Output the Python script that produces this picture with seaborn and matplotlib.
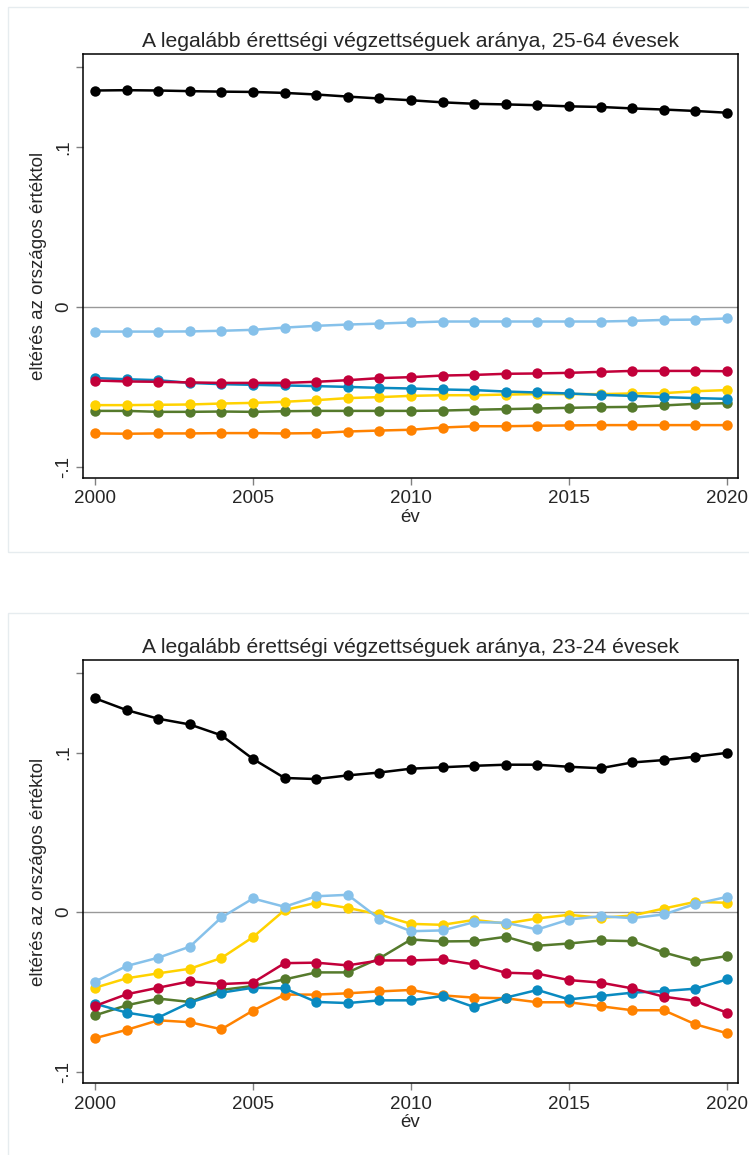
import numpy as np
import pandas as pd
import seaborn as sns
import matplotlib.pyplot as plt
from matplotlib.patches import Rectangle

years = list(range(2000, 2021))

# 25-64 year olds
top_black = [0.1352, 0.1354, 0.1352, 0.1348, 0.1345, 0.1343, 0.1337, 0.1327, 0.1314, 0.1302, 0.1291,
             0.1278, 0.1269, 0.1265, 0.1260, 0.1253, 0.1249, 0.1240, 0.1233, 0.1224, 0.1213]
top_lightblue = [-0.0156, -0.0156, -0.0156, -0.0155, -0.0151, -0.0145, -0.0131, -0.0120, -0.0112, -0.0106, -0.0099,
                 -0.0093, -0.0093, -0.0093, -0.0093, -0.0093, -0.0093, -0.0089, -0.0083, -0.0081, -0.0074]
top_blue = [-0.0447, -0.0454, -0.0460, -0.0477, -0.0485, -0.0489, -0.0493, -0.0497, -0.0502, -0.0508, -0.0512,
            -0.0518, -0.0522, -0.0531, -0.0537, -0.0543, -0.0552, -0.0558, -0.0566, -0.0572, -0.0577]
top_red = [-0.0462, -0.0468, -0.0470, -0.0474, -0.0477, -0.0477, -0.0477, -0.0470, -0.0460, -0.0447, -0.0441,
           -0.0431, -0.0427, -0.0420, -0.0418, -0.0414, -0.0408, -0.0402, -0.0402, -0.0402, -0.0404]
top_yellow = [-0.0616, -0.0616, -0.0614, -0.0612, -0.0606, -0.0602, -0.0595, -0.0585, -0.0572, -0.0566, -0.0558,
              -0.0554, -0.0554, -0.0550, -0.0547, -0.0547, -0.0547, -0.0543, -0.0541, -0.0529, -0.0522]
top_green = [-0.0652, -0.0652, -0.0658, -0.0658, -0.0656, -0.0658, -0.0654, -0.0652, -0.0652, -0.0652, -0.0652,
             -0.0650, -0.0645, -0.0641, -0.0637, -0.0633, -0.0629, -0.0627, -0.0618, -0.0608, -0.0604]
top_orange = [-0.0793, -0.0795, -0.0793, -0.0793, -0.0791, -0.0791, -0.0793, -0.0791, -0.0781, -0.0775, -0.0770,
              -0.0756, -0.0748, -0.0748, -0.0745, -0.0743, -0.0741, -0.0741, -0.0741, -0.0741, -0.0741]

# 23-24 year olds
bot_black = [0.1340, 0.1266, 0.1212, 0.1176, 0.1108, 0.0960, 0.0841, 0.0834, 0.0857, 0.0875, 0.0899,
             0.0908, 0.0917, 0.0924, 0.0924, 0.0911, 0.0902, 0.0938, 0.0953, 0.0974, 0.0998]
bot_lightblue = [-0.0435, -0.0337, -0.0285, -0.0216, -0.0033, 0.0086, 0.0034, 0.0100, 0.0109, -0.0041, -0.0119,
                 -0.0114, -0.0062, -0.0066, -0.0108, -0.0046, -0.0025, -0.0037, -0.0014, 0.0052, 0.0096]
bot_blue = [-0.0573, -0.0629, -0.0660, -0.0566, -0.0504, -0.0473, -0.0477, -0.0562, -0.0569, -0.0552, -0.0552,
            -0.0525, -0.0594, -0.0535, -0.0487, -0.0546, -0.0525, -0.0504, -0.0494, -0.0479, -0.0421]
bot_red = [-0.0587, -0.0514, -0.0473, -0.0433, -0.0450, -0.0441, -0.0319, -0.0316, -0.0333, -0.0302, -0.0302,
           -0.0296, -0.0327, -0.0379, -0.0385, -0.0425, -0.0441, -0.0477, -0.0529, -0.0556, -0.0629]
bot_yellow = [-0.0473, -0.0414, -0.0383, -0.0354, -0.0287, -0.0156, 0.0013, 0.0059, 0.0027, -0.0014, -0.0073,
              -0.0079, -0.0048, -0.0071, -0.0039, -0.0016, -0.0035, -0.0021, 0.0023, 0.0065, 0.0059]
bot_green = [-0.0646, -0.0583, -0.0541, -0.0562, -0.0487, -0.0462, -0.0421, -0.0377, -0.0377, -0.0289, -0.0171,
             -0.0183, -0.0181, -0.0154, -0.0210, -0.0196, -0.0177, -0.0181, -0.0252, -0.0306, -0.0275]
bot_orange = [-0.0789, -0.0737, -0.0677, -0.0689, -0.0733, -0.0616, -0.0516, -0.0516, -0.0508, -0.0496, -0.0487,
              -0.0521, -0.0535, -0.0539, -0.0564, -0.0564, -0.0589, -0.0614, -0.0614, -0.0702, -0.0758]

names = ['orange', 'green', 'yellow', 'blue', 'red', 'lightblue', 'black']
colors = {'black': '#000000', 'lightblue': '#86c1ea', 'blue': '#0a8ac0', 'red': '#c2003a',
          'yellow': '#ffd200', 'green': '#557a2c', 'orange': '#ff8200'}

top = {'black': top_black, 'lightblue': top_lightblue, 'blue': top_blue, 'red': top_red,
       'yellow': top_yellow, 'green': top_green, 'orange': top_orange}
bot = {'black': bot_black, 'lightblue': bot_lightblue, 'blue': bot_blue, 'red': bot_red,
       'yellow': bot_yellow, 'green': bot_green, 'orange': bot_orange}


def long_df(d):
    rows = []
    for k, v in d.items():
        rows.append(pd.DataFrame({'ev': years, 'val': v, 'reg': k}))
    return pd.concat(rows, ignore_index=True)


sns.set_style('white')
plt.rcParams['font.family'] = ['Liberation Sans', 'DejaVu Sans']

fig = plt.figure(figsize=(7.49, 11.55), dpi=100)
fig.patches.append(Rectangle((0.0107, 0.5221), 1.0, 0.4718, transform=fig.transFigure,
                             fill=False, edgecolor='#e6ecef', lw=1))
fig.patches.append(Rectangle((0.0107, -0.01), 1.0, 0.4793, transform=fig.transFigure,
                             fill=False, edgecolor='#e6ecef', lw=1))

ax1 = fig.add_axes([0.1108, 0.5864, 0.8745, 0.3668])
ax2 = fig.add_axes([0.1108, 0.0623, 0.8745, 0.3663])

panels = [(ax1, top, 'A legalább érettségi végzettséguek aránya, 25-64 évesek'),
          (ax2, bot, 'A legalább érettségi végzettséguek aránya, 23-24 évesek')]

for ax, d, title in panels:
    ax.axhline(0, color='#999999', lw=1, zorder=1)
    sns.lineplot(ax=ax, data=long_df(d), x='ev', y='val', hue='reg', hue_order=names,
                 palette=colors, marker='o', markersize=7.5, markeredgewidth=0, lw=1.8,
                 legend=False, zorder=3)
    ax.set_xlim(1999.62, 2020.35)
    ax.set_ylim(-0.107, 0.158)
    ax.set_xticks([2000, 2005, 2010, 2015, 2020])
    ax.set_yticks([-0.1, 0, 0.1, 0.15])
    ax.set_yticklabels(['-.1', '0', '.1', ''], rotation=90, va='center')
    ax.tick_params(axis='both', which='major', length=5, width=1, color='#808080',
                   labelsize=13.5, direction='out', left=True, bottom=True)
    ax.tick_params(axis='y', pad=3)
    ax.tick_params(axis='x', pad=4)
    for sp in ax.spines.values():
        sp.set_color('black')
        sp.set_linewidth(1.1)
    ax.set_title(title, fontsize=15.2, pad=5)
    ax.set_xlabel('év', fontsize=13.5, labelpad=1)
    ax.set_ylabel('eltérés az országos értéktol', fontsize=13.5, labelpad=6)

fig.savefig('out.png', dpi=100)
